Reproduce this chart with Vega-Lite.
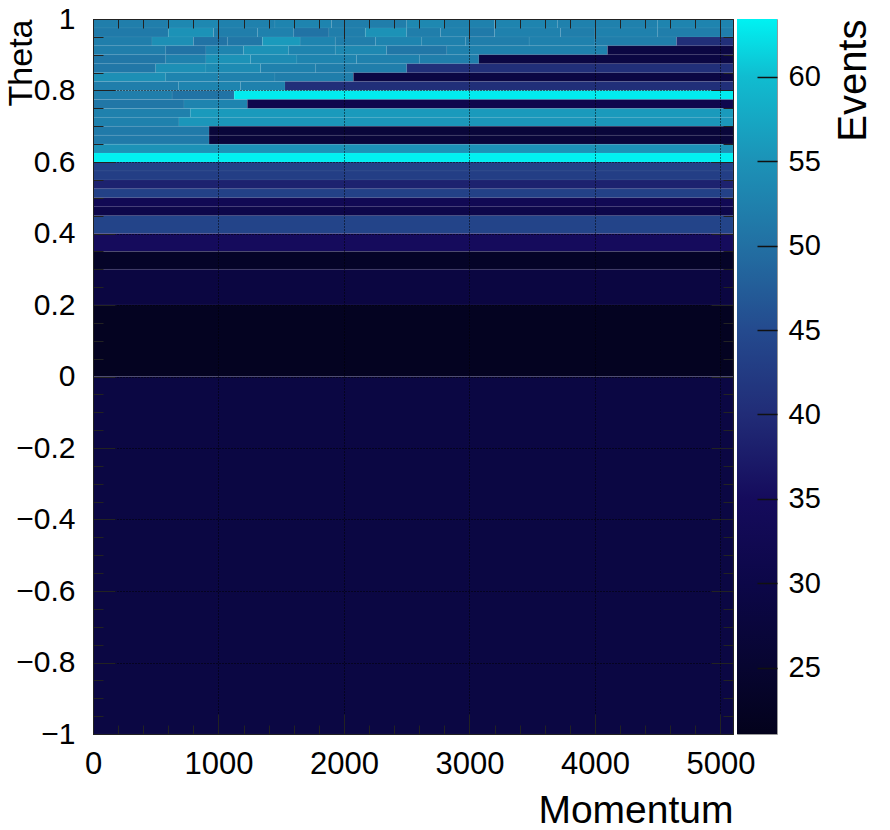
{
  "$schema": "https://vega.github.io/schema/vega-lite/v6.json",
  "padding": {"left": 4, "top": 4, "right": 10, "bottom": 5},
  "autosize": {"type": "pad"},
  "background": "white",
  "bounds": "flush",
  "spacing": 4,
  "config": {
    "view": {"stroke": null},
    "font": "Liberation Sans",
    "axis": {"labelFont": "Liberation Sans", "titleFont": "Liberation Sans", "labelColor": "black", "titleColor": "black", "titleFontWeight": "normal", "tickColor": "#222", "domainColor": "#222"}
  },
  "hconcat": [
    {
      "width": 640,
      "height": 715,
      "data": {"values": [
        {"m0":0,"m1":600,"t0":0.975,"t1":1,"events":52},
        {"m0":600,"m1":1000,"t0":0.975,"t1":1,"events":53.5},
        {"m0":1000,"m1":1450,"t0":0.975,"t1":1,"events":52.5},
        {"m0":1450,"m1":1900,"t0":0.975,"t1":1,"events":53},
        {"m0":1900,"m1":2500,"t0":0.975,"t1":1,"events":52},
        {"m0":2500,"m1":2800,"t0":0.975,"t1":1,"events":53.5},
        {"m0":2800,"m1":3200,"t0":0.975,"t1":1,"events":52.5},
        {"m0":3200,"m1":3700,"t0":0.975,"t1":1,"events":53},
        {"m0":3700,"m1":4500,"t0":0.975,"t1":1,"events":52.5},
        {"m0":4500,"m1":5100,"t0":0.975,"t1":1,"events":53},
        {"m0":0,"m1":600,"t0":0.95,"t1":0.975,"events":51.5},
        {"m0":600,"m1":960,"t0":0.95,"t1":0.975,"events":55},
        {"m0":960,"m1":1310,"t0":0.95,"t1":0.975,"events":52},
        {"m0":1310,"m1":1600,"t0":0.95,"t1":0.975,"events":52.5},
        {"m0":1600,"m1":1880,"t0":0.95,"t1":0.975,"events":50.5},
        {"m0":1880,"m1":2170,"t0":0.95,"t1":0.975,"events":52},
        {"m0":2170,"m1":2500,"t0":0.95,"t1":0.975,"events":55},
        {"m0":2500,"m1":2770,"t0":0.95,"t1":0.975,"events":52},
        {"m0":2770,"m1":3000,"t0":0.95,"t1":0.975,"events":52.5},
        {"m0":3000,"m1":3200,"t0":0.95,"t1":0.975,"events":51.5},
        {"m0":3200,"m1":3725,"t0":0.95,"t1":0.975,"events":52.5},
        {"m0":3725,"m1":4000,"t0":0.95,"t1":0.975,"events":52},
        {"m0":4000,"m1":4500,"t0":0.95,"t1":0.975,"events":52.5},
        {"m0":4500,"m1":5100,"t0":0.95,"t1":0.975,"events":52},
        {"m0":0,"m1":470,"t0":0.925,"t1":0.95,"events":52},
        {"m0":470,"m1":800,"t0":0.925,"t1":0.95,"events":54.5},
        {"m0":800,"m1":1070,"t0":0.925,"t1":0.95,"events":50.5},
        {"m0":1070,"m1":1350,"t0":0.925,"t1":0.95,"events":51},
        {"m0":1350,"m1":1650,"t0":0.925,"t1":0.95,"events":56},
        {"m0":1650,"m1":1930,"t0":0.925,"t1":0.95,"events":53},
        {"m0":1930,"m1":2250,"t0":0.925,"t1":0.95,"events":52},
        {"m0":2250,"m1":2620,"t0":0.925,"t1":0.95,"events":53},
        {"m0":2620,"m1":2970,"t0":0.925,"t1":0.95,"events":52.5},
        {"m0":2970,"m1":3475,"t0":0.925,"t1":0.95,"events":52},
        {"m0":3475,"m1":4000,"t0":0.925,"t1":0.95,"events":52.5},
        {"m0":4000,"m1":4650,"t0":0.925,"t1":0.95,"events":52},
        {"m0":4650,"m1":5100,"t0":0.925,"t1":0.95,"events":40.5},
        {"m0":0,"m1":580,"t0":0.9,"t1":0.925,"events":52},
        {"m0":580,"m1":900,"t0":0.9,"t1":0.925,"events":50.5},
        {"m0":900,"m1":1200,"t0":0.9,"t1":0.925,"events":53},
        {"m0":1200,"m1":1560,"t0":0.9,"t1":0.925,"events":55},
        {"m0":1560,"m1":1930,"t0":0.9,"t1":0.925,"events":53},
        {"m0":1930,"m1":2340,"t0":0.9,"t1":0.925,"events":53.5},
        {"m0":2340,"m1":2820,"t0":0.9,"t1":0.925,"events":51},
        {"m0":2820,"m1":4100,"t0":0.9,"t1":0.925,"events":52.5},
        {"m0":4100,"m1":5100,"t0":0.9,"t1":0.925,"events":29},
        {"m0":0,"m1":580,"t0":0.875,"t1":0.9,"events":51},
        {"m0":580,"m1":900,"t0":0.875,"t1":0.9,"events":52.5},
        {"m0":900,"m1":1255,"t0":0.875,"t1":0.9,"events":55},
        {"m0":1255,"m1":1625,"t0":0.875,"t1":0.9,"events":54},
        {"m0":1625,"m1":2100,"t0":0.875,"t1":0.9,"events":53},
        {"m0":2100,"m1":2600,"t0":0.875,"t1":0.9,"events":52.5},
        {"m0":2600,"m1":3075,"t0":0.875,"t1":0.9,"events":52},
        {"m0":3075,"m1":5100,"t0":0.875,"t1":0.9,"events":29},
        {"m0":0,"m1":500,"t0":0.85,"t1":0.875,"events":51},
        {"m0":500,"m1":900,"t0":0.85,"t1":0.875,"events":54.5},
        {"m0":900,"m1":1335,"t0":0.85,"t1":0.875,"events":54},
        {"m0":1335,"m1":1775,"t0":0.85,"t1":0.875,"events":52.5},
        {"m0":1775,"m1":2500,"t0":0.85,"t1":0.875,"events":52},
        {"m0":2500,"m1":5100,"t0":0.85,"t1":0.875,"events":40.5},
        {"m0":0,"m1":580,"t0":0.825,"t1":0.85,"events":54.5},
        {"m0":580,"m1":1000,"t0":0.825,"t1":0.85,"events":53},
        {"m0":1000,"m1":1450,"t0":0.825,"t1":0.85,"events":52.5},
        {"m0":1450,"m1":2075,"t0":0.825,"t1":0.85,"events":52},
        {"m0":2075,"m1":5100,"t0":0.825,"t1":0.85,"events":29},
        {"m0":0,"m1":680,"t0":0.8,"t1":0.825,"events":52},
        {"m0":680,"m1":1175,"t0":0.8,"t1":0.825,"events":53},
        {"m0":1175,"m1":1530,"t0":0.8,"t1":0.825,"events":52.5},
        {"m0":1530,"m1":5100,"t0":0.8,"t1":0.825,"events":40.5},
        {"m0":0,"m1":630,"t0":0.775,"t1":0.8,"events":52},
        {"m0":630,"m1":1125,"t0":0.775,"t1":0.8,"events":50.5},
        {"m0":1125,"m1":5100,"t0":0.775,"t1":0.8,"events":63},
        {"m0":0,"m1":725,"t0":0.75,"t1":0.775,"events":51},
        {"m0":725,"m1":1230,"t0":0.75,"t1":0.775,"events":53},
        {"m0":1230,"m1":5100,"t0":0.75,"t1":0.775,"events":31.5},
        {"m0":0,"m1":775,"t0":0.725,"t1":0.75,"events":52.5},
        {"m0":775,"m1":5100,"t0":0.725,"t1":0.75,"events":56},
        {"m0":0,"m1":685,"t0":0.7,"t1":0.725,"events":52.5},
        {"m0":685,"m1":5100,"t0":0.7,"t1":0.725,"events":55.5},
        {"m0":0,"m1":925,"t0":0.675,"t1":0.7,"events":51.5},
        {"m0":925,"m1":5100,"t0":0.675,"t1":0.7,"events":27},
        {"m0":0,"m1":925,"t0":0.65,"t1":0.675,"events":51.5},
        {"m0":925,"m1":5100,"t0":0.65,"t1":0.675,"events":27},
        {"m0":0,"m1":5100,"t0":0.625,"t1":0.65,"events":55},
        {"m0":0,"m1":5100,"t0":0.6,"t1":0.625,"events":63.3},
        {"m0":0,"m1":5100,"t0":0.575,"t1":0.6,"events":43.5},
        {"m0":0,"m1":5100,"t0":0.55,"t1":0.575,"events":43},
        {"m0":0,"m1":5100,"t0":0.525,"t1":0.55,"events":38.5},
        {"m0":0,"m1":5100,"t0":0.5,"t1":0.525,"events":43.5},
        {"m0":0,"m1":5100,"t0":0.475,"t1":0.5,"events":33},
        {"m0":0,"m1":5100,"t0":0.45,"t1":0.475,"events":30.5},
        {"m0":0,"m1":5100,"t0":0.4,"t1":0.45,"events":44},
        {"m0":0,"m1":5100,"t0":0.35,"t1":0.4,"events":35},
        {"m0":0,"m1":5100,"t0":0.3,"t1":0.35,"events":23.5},
        {"m0":0,"m1":5100,"t0":0.2,"t1":0.3,"events":28.5},
        {"m0":0,"m1":5100,"t0":0,"t1":0.2,"events":22},
        {"m0":0,"m1":5100,"t0":-1,"t1":0,"events":29}
      ]},
      "resolve": {"axis": {"x": "independent", "y": "independent"}},
      "layer": [
        {
          "mark": {"type": "rect", "stroke": "white", "strokeOpacity": 0.08, "strokeWidth": 0.6},
          "encoding": {
            "x": {"field": "m0", "type": "quantitative",
              "scale": {"domain": [0, 5100], "nice": false, "zero": false},
              "axis": {"orient": "bottom", "zindex": 1,
                "values": [0,200,400,600,800,1000,1200,1400,1600,1800,2000,2200,2400,2600,2800,3000,3200,3400,3600,3800,4000,4200,4400,4600,4800,5000],
                "format": "d",
                "labelExpr": "datum.value % 1000 === 0 ? datum.label : ''",
                "labelOverlap": false, "labelFlush": false, "labelFontSize": 31, "labelPadding": 35,
                "tickSize": {"condition": {"test": "datum.value % 1000 === 0", "value": -20}, "value": -9},
                "tickWidth": 1,
                "grid": true, "gridColor": "black", "gridDash": [1, 2], "gridWidth": 1,
                "gridOpacity": {"condition": {"test": "datum.value % 1000 === 0", "value": 1}, "value": 0},
                "domain": true,
                "title": "Momentum", "titleFontSize": 39, "titleAnchor": "end", "titlePadding": 1}},
            "x2": {"field": "m1"},
            "y": {"field": "t0", "type": "quantitative",
              "scale": {"domain": [-1, 1], "nice": false, "zero": false},
              "axis": {"orient": "left", "zindex": 1,
                "values": [-1,-0.95,-0.9,-0.85,-0.8,-0.75,-0.7,-0.65,-0.6,-0.55,-0.5,-0.45,-0.4,-0.35,-0.3,-0.25,-0.2,-0.15,-0.1,-0.05,0,0.05,0.1,0.15,0.2,0.25,0.3,0.35,0.4,0.45,0.5,0.55,0.6,0.65,0.7,0.75,0.8,0.85,0.9,0.95,1],
                "format": "~g",
                "labelExpr": "abs(datum.value * 5 - round(datum.value * 5)) < 0.001 ? datum.label : ''",
                "labelOverlap": false, "labelFontSize": 30, "labelPadding": 40,
                "tickSize": {"condition": {"test": "abs(datum.value * 5 - round(datum.value * 5)) < 0.001", "value": -22}, "value": -10},
                "grid": true, "gridColor": "black", "gridDash": [1, 2], "gridWidth": 1,
                "gridOpacity": {"condition": {"test": "abs(datum.value * 5 - round(datum.value * 5)) < 0.001", "value": 1}, "value": 0},
                "domain": true,
                "title": "Theta", "titleFontSize": 34, "titleAnchor": "end", "titleAngle": 270, "titlePadding": -23}},
            "y2": {"field": "t1"},
            "color": {"field": "events", "type": "quantitative", "legend": null,
              "scale": {"domain": [21.07, 25, 30, 35, 40, 45, 50, 55, 60, 63.43],
                "range": ["#03021c", "#070530", "#0c0748", "#150b5c", "#212c77", "#244a8e", "#2270a3", "#1c92b7", "#10bcd0", "#00f2f2"],
                "interpolate": "rgb", "clamp": true}}
          }
        },
        {
          "mark": {"type": "rect", "opacity": 0},
          "encoding": {
            "x": {"field": "m0", "type": "quantitative",
              "scale": {"domain": [0, 5100], "nice": false, "zero": false},
              "axis": {"orient": "top", "zindex": 1, "labels": false, "grid": false, "title": null,
                "values": [0,200,400,600,800,1000,1200,1400,1600,1800,2000,2200,2400,2600,2800,3000,3200,3400,3600,3800,4000,4200,4400,4600,4800,5000],
                "tickSize": {"condition": {"test": "datum.value % 1000 === 0", "value": -20}, "value": -9},
                "domain": true}},
            "x2": {"field": "m1"},
            "y": {"field": "t0", "type": "quantitative",
              "scale": {"domain": [-1, 1], "nice": false, "zero": false},
              "axis": {"orient": "right", "zindex": 1, "labels": false, "grid": false, "title": null,
                "values": [-1,-0.95,-0.9,-0.85,-0.8,-0.75,-0.7,-0.65,-0.6,-0.55,-0.5,-0.45,-0.4,-0.35,-0.3,-0.25,-0.2,-0.15,-0.1,-0.05,0,0.05,0.1,0.15,0.2,0.25,0.3,0.35,0.4,0.45,0.5,0.55,0.6,0.65,0.7,0.75,0.8,0.85,0.9,0.95,1],
                "tickSize": {"condition": {"test": "abs(datum.value * 5 - round(datum.value * 5)) < 0.001", "value": -22}, "value": -10},
                "domain": true}},
            "y2": {"field": "t1"}
          }
        }
      ]
    },
    {
      "width": 40,
      "height": 715,
      "view": {"stroke": "#999", "strokeWidth": 1},
      "data": {"values": [{"lo": 21.07, "hi": 63.43}]},
      "mark": {"type": "rect", "color": {"gradient": "linear", "x1": 0, "y1": 1, "x2": 0, "y2": 0,
        "stops": [
          {"offset": 0, "color": "#03021c"},
          {"offset": 0.0928, "color": "#070530"},
          {"offset": 0.2108, "color": "#0c0748"},
          {"offset": 0.3289, "color": "#150b5c"},
          {"offset": 0.4469, "color": "#212c77"},
          {"offset": 0.5649, "color": "#244a8e"},
          {"offset": 0.6830, "color": "#2270a3"},
          {"offset": 0.8010, "color": "#1c92b7"},
          {"offset": 0.9190, "color": "#10bcd0"},
          {"offset": 1, "color": "#00f2f2"}
        ]}},
      "encoding": {
        "y": {"field": "lo", "type": "quantitative",
          "scale": {"domain": [21.07, 63.43], "nice": false, "zero": false},
          "axis": {"orient": "right", "zindex": 1, "values": [25, 30, 35, 40, 45, 50, 55, 60],
            "tickSize": -20, "tickWidth": 1.5, "tickColor": "#111", "labelFontSize": 29, "labelPadding": 31, "domain": false, "grid": false,
            "title": "Events", "titleFontSize": 40, "titleAngle": 270, "titleBaseline": "top", "titleAnchor": "end", "titlePadding": 13}},
        "y2": {"field": "hi"}
      }
    }
  ]
}
